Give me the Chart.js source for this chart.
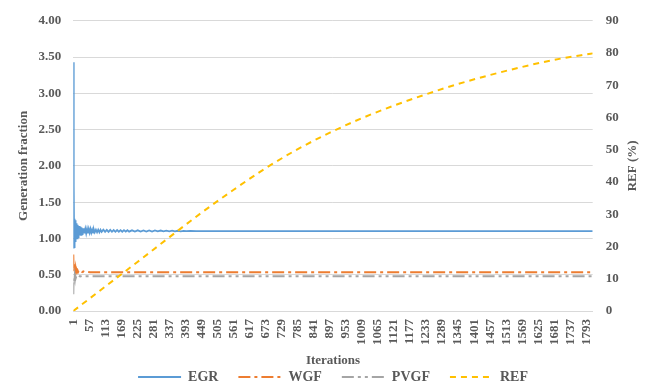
<!DOCTYPE html>
<html>
<head>
<meta charset="utf-8">
<script src="https://cdn.jsdelivr.net/npm/chart.js@4"></script>
<style>
  body { margin: 0; background: #fff; }
  canvas { display: block; }
</style>
</head>
<body>
<canvas id="chart" width="655" height="383"></canvas>
<script>
const LAST_ITER = 1815;
const xTickLabels = [1, 57, 113, 169, 225, 281, 337, 393, 449, 505, 561, 617, 673, 729, 785, 841, 897, 953,
  1009, 1065, 1121, 1177, 1233, 1289, 1345, 1401, 1457, 1513, 1569, 1625, 1681, 1737, 1793];

// EGR: spike at start, decaying oscillation, then flat
const egrIter = [1, 2, 3, 4, 5, 6, 7, 8, 9, 10, 11, 12, 13, 14, 15, 16, 17, 18, 19, 20,
  21, 22, 23, 24, 25, 26, 27, 28, 29, 30, 31, 32, 33, 34, 35, 36, 37, 38, 39, 40,
  43, 46, 49, 52, 55, 58, 61, 64, 67, 70, 73, 76, 80, 84, 88, 92, 96, 100,
  106, 112, 118, 124, 130, 136, 142, 148, 154, 160, 166, 172, 178, 184, 190, 196,
  206, 216, 226, 236, 246, 256, 266, 276, 286, 296, 306, 316, 326, 336, 346, 356, 366, 376, 386, 396,
  410, 430, 1815];
const egrVal = [3.43, 0.86, 1.73, 0.88, 1.27, 0.92, 1.25, 0.95, 1.23, 0.97, 1.21, 0.99, 1.20, 1.00, 1.19, 1.01, 1.18, 1.02, 1.17, 1.03,
  1.17, 1.04, 1.16, 1.04, 1.16, 1.05, 1.15, 1.05, 1.15, 1.06, 1.15, 1.06, 1.14, 1.06, 1.14, 1.07, 1.14, 1.07, 1.13, 1.07,
  1.13, 1.07, 1.13, 1.07, 1.13, 1.08, 1.13, 1.08, 1.12, 1.08, 1.12, 1.085, 1.12, 1.085, 1.12, 1.085, 1.12, 1.09,
  1.12, 1.09, 1.118, 1.09, 1.118, 1.092, 1.115, 1.092, 1.115, 1.093, 1.115, 1.093, 1.114, 1.094, 1.113, 1.094,
  1.112, 1.095, 1.112, 1.095, 1.111, 1.096, 1.11, 1.096, 1.11, 1.097, 1.109, 1.097, 1.108, 1.098, 1.107, 1.098, 1.106, 1.099, 1.105, 1.10,
  1.104, 1.10, 1.10];

const wgfIter = [1, 2, 3, 4, 5, 6, 7, 8, 9, 10, 12, 14, 16, 18, 20, 24, 28, 32, 36, 40, 50, 60, 1815];
const wgfVal = [0.78, 0.57, 0.66, 0.55, 0.61, 0.55, 0.59, 0.545, 0.58, 0.545, 0.57, 0.54, 0.56, 0.54, 0.555,
  0.54, 0.55, 0.537, 0.545, 0.537, 0.54, 0.535, 0.535];

const pvgfIter = [1, 2, 3, 4, 5, 6, 7, 8, 10, 12, 15, 20, 25, 30, 40, 60, 1815];
const pvgfVal = [0.23, 0.45, 0.38, 0.47, 0.43, 0.48, 0.45, 0.485, 0.46, 0.485, 0.47, 0.485, 0.475, 0.482, 0.478, 0.48, 0.48];

const refIter = [1, 113, 225, 337, 449, 561, 673, 785, 897, 1009, 1121, 1233, 1345, 1457, 1569, 1681, 1793, 1815];
const refVal = [0, 7.6, 15.2, 22.9, 30.5, 37.6, 44.3, 50.2, 55.3, 59.8, 63.7, 67.2, 70.4, 73.2, 75.7, 77.9, 79.6, 79.9];

const TEXT = '#595959';
const GRID = '#d9d9d9';
const FONT = 'Liberation Serif';

const pts = (xs, ys) => xs.map((x, i) => ({ x, y: ys[i] }));

// titles Chart.js can't place the way Excel does
const extraTitles = {
  id: 'extraTitles',
  afterDraw(chart) {
    const { ctx, chartArea } = chart;
    ctx.save();
    ctx.fillStyle = TEXT;
    ctx.font = 'bold 13px "' + FONT + '"';
    ctx.textAlign = 'center';
    ctx.textBaseline = 'middle';
    ctx.fillText('Iterations', (chartArea.left + chartArea.right) / 2, 361);
    ctx.translate(633, (chartArea.top + chartArea.bottom) / 2);
    ctx.rotate(-Math.PI / 2);
    ctx.fillText('REF (%)', 0, 0);
    ctx.restore();
  }
};

// legend lines take dash/width from the dataset, not the (hidden) points
function legendLabels(chart) {
  const items = Chart.defaults.plugins.legend.labels.generateLabels(chart);
  items.forEach(it => {
    const ds = chart.data.datasets[it.datasetIndex];
    it.lineDash = ds.borderDash || [];
    it.lineWidth = 2;
    it.strokeStyle = ds.borderColor;
  });
  return items;
}

new Chart(document.getElementById('chart'), {
  type: 'line',
  data: {
    datasets: [
      { label: 'EGR', data: pts(egrIter, egrVal), yAxisID: 'y', borderColor: '#5b9bd5', borderWidth: 1.8, order: 4 },
      { label: 'WGF', data: pts(wgfIter, wgfVal), yAxisID: 'y', borderColor: '#ed7d31', borderWidth: 2,
        borderDash: [12, 4, 3, 4], order: 3 },
      { label: 'PVGF', data: pts(pvgfIter, pvgfVal), yAxisID: 'y', borderColor: '#a5a5a5', borderWidth: 2,
        borderDash: [12, 4, 3, 4, 3, 4], order: 2 },
      { label: 'REF', data: pts(refIter, refVal), yAxisID: 'y2', borderColor: '#ffc000', borderWidth: 2,
        borderDash: [6, 5], cubicInterpolationMode: 'monotone', order: 1 }
    ]
  },
  options: {
    responsive: false,
    animation: false,
    layout: { padding: { left: 11, right: 0, top: 17, bottom: 0 } },
    elements: { point: { radius: 0, hoverRadius: 0, pointStyle: 'line' }, line: { tension: 0, fill: false } },
    plugins: {
      tooltip: { enabled: false },
      legend: {
        position: 'bottom',
        maxHeight: 33,
        labels: {
          usePointStyle: true,
          pointStyle: 'line',
          pointStyleWidth: 43,
          padding: 20,
          color: TEXT,
          font: { family: FONT, size: 14, weight: 'bold' },
          generateLabels: legendLabels,
          sort: (a, b) => a.datasetIndex - b.datasetIndex
        }
      }
    },
    scales: {
      x: {
        type: 'linear',
        min: 1,
        max: LAST_ITER,
        afterBuildTicks: axis => { axis.ticks = xTickLabels.map(v => ({ value: v })); },
        afterFit: axis => { axis.height = 39; },
        grid: { display: false, drawTicks: false },
        border: { display: true, color: GRID, width: 1 },
        ticks: {
          autoSkip: false, minRotation: 90, maxRotation: 90, padding: 8,
          color: TEXT, font: { family: FONT, size: 13, weight: 'bold' },
          callback: v => String(v)
        }
      },
      y: {
        position: 'left',
        min: 0, max: 4,
        afterFit: axis => { axis.width = 62.3; },
        grid: { color: GRID, lineWidth: 1, drawTicks: false },
        border: { display: false },
        ticks: {
          stepSize: 0.5, padding: 12,
          color: TEXT, font: { family: FONT, size: 13, weight: 'bold' },
          callback: v => v.toFixed(2)
        },
        title: {
          display: true, text: 'Generation fraction', color: TEXT,
          font: { family: FONT, size: 13, weight: 'bold' },
          padding: { top: 5, bottom: 0 }
        }
      },
      y2: {
        position: 'right',
        min: 0, max: 90,
        afterFit: axis => { axis.width = 62.3; },
        grid: { drawOnChartArea: false, drawTicks: false },
        border: { display: false },
        ticks: {
          stepSize: 10, padding: 13,
          color: TEXT, font: { family: FONT, size: 13, weight: 'bold' }
        }
      }
    }
  },
  plugins: [extraTitles]
});
</script>
</body>
</html>
